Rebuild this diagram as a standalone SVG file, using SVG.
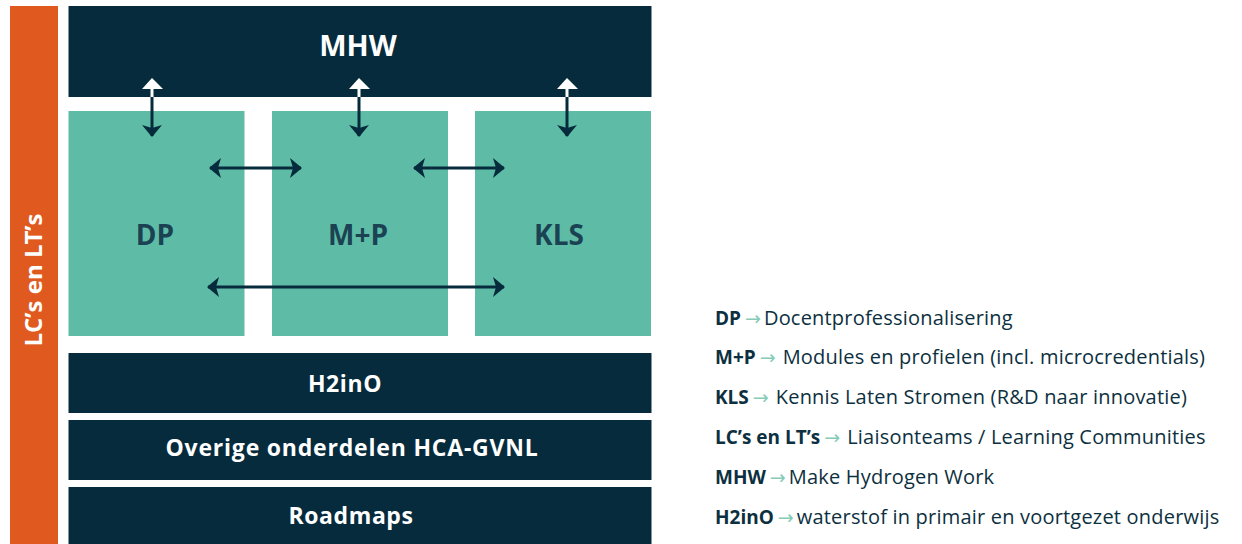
<svg xmlns="http://www.w3.org/2000/svg" width="1242" height="544" viewBox="0 0 1242 544">
<defs>
<style>
.navy{fill:#062b3d}
.green{fill:#5ebca6}
.wt{fill:#ffffff;font-family:"Open Sans","Liberation Sans",sans-serif;font-weight:700;text-anchor:middle}
.gt{fill:#1b4253;font-family:"Open Sans","Liberation Sans",sans-serif;font-weight:700;text-anchor:middle;font-size:28px}
.conn{stroke:#062b3d;stroke-width:3;fill:none}
.lg{font-family:"Open Sans","Liberation Sans",sans-serif;font-size:20px;fill:#0d3040;letter-spacing:0.2px}
.lg .b{font-weight:700;font-size:19px;letter-spacing:0}
.lg .a{fill:#86cbb5;font-size:19px;font-family:"DejaVu Sans",sans-serif;letter-spacing:0}
</style>
<marker id="ah" viewBox="0 0 12 20" refX="11" refY="10" markerWidth="12" markerHeight="20" markerUnits="userSpaceOnUse" orient="auto-start-reverse">
<path d="M0,0 L12,10 L0,20 L3,10 Z" fill="#062b3d"/>
</marker>
</defs>

<g id="lcs">
<rect x="10" y="6" width="48" height="538" fill="#e05a1f"/>
<text class="wt" font-size="24" transform="translate(42,280) rotate(-90)">LC’s en LT’s</text>
</g>

<g id="mhw">
<rect class="navy" x="68.5" y="6" width="583" height="91"/>
<text class="wt" font-size="29" x="358" y="56">MHW</text>
</g>

<g id="dp">
<rect class="green" x="68.5" y="111" width="176" height="225"/>
<text class="gt" x="155" y="245">DP</text>
</g>
<g id="mp">
<rect class="green" x="272" y="111" width="176" height="225"/>
<text class="gt" x="358" y="245">M+P</text>
</g>
<g id="kls">
<rect class="green" x="475" y="111" width="176" height="225"/>
<text class="gt" x="559" y="245">KLS</text>
</g>

<g id="h2ino">
<rect class="navy" x="68.5" y="353" width="583" height="60"/>
<text class="wt" font-size="23" letter-spacing="0.6" x="345" y="392">H2inO</text>
</g>
<g id="overige">
<rect class="navy" x="68.5" y="420" width="583" height="60"/>
<text class="wt" font-size="23" letter-spacing="0.8" x="352" y="456">Overige onderdelen HCA-GVNL</text>
</g>
<g id="roadmaps">
<rect class="navy" x="68.5" y="487" width="583" height="57"/>
<text class="wt" font-size="23" letter-spacing="0.6" x="351" y="524">Roadmaps</text>
</g>

<g id="connectors">
<g>
<line x1="152" y1="89" x2="152" y2="97" stroke="#ffffff" stroke-width="3"/>
<path d="M142,89 L152,78 L163,89 Z" fill="#ffffff"/>
<line class="conn" x1="152" y1="97" x2="152" y2="136" marker-end="url(#ah)"/>
</g>
<g>
<line x1="359" y1="89" x2="359" y2="97" stroke="#ffffff" stroke-width="3"/>
<path d="M349,89 L359,78 L370,89 Z" fill="#ffffff"/>
<line class="conn" x1="359" y1="97" x2="359" y2="136" marker-end="url(#ah)"/>
</g>
<g>
<line x1="567" y1="89" x2="567" y2="97" stroke="#ffffff" stroke-width="3"/>
<path d="M557,89 L567,78 L578,89 Z" fill="#ffffff"/>
<line class="conn" x1="567" y1="97" x2="567" y2="136" marker-end="url(#ah)"/>
</g>
<line class="conn" x1="210" y1="168" x2="301" y2="168" marker-start="url(#ah)" marker-end="url(#ah)"/>
<line class="conn" x1="414" y1="168" x2="504" y2="168" marker-start="url(#ah)" marker-end="url(#ah)"/>
<line class="conn" x1="208" y1="287" x2="504" y2="287" marker-start="url(#ah)" marker-end="url(#ah)"/>
</g>

<g id="legend" class="lg">
<text x="715" y="325"><tspan class="b">DP</tspan><tspan class="a" dx="4">→</tspan><tspan dx="3">Docentprofessionalisering</tspan></text>
<text x="715" y="364"><tspan class="b">M+P</tspan><tspan class="a" dx="4">→</tspan><tspan dx="7">Modules en profielen (incl. microcredentials)</tspan></text>
<text x="715" y="404"><tspan class="b">KLS</tspan><tspan class="a" dx="4">→</tspan><tspan dx="7">Kennis Laten Stromen (R&amp;D naar innovatie)</tspan></text>
<text x="715" y="444"><tspan class="b">LC’s en LT’s</tspan><tspan class="a" dx="4">→</tspan><tspan dx="7">Liaisonteams / Learning Communities</tspan></text>
<text x="715" y="484"><tspan class="b">MHW</tspan><tspan class="a" dx="4">→</tspan><tspan dx="3">Make Hydrogen Work</tspan></text>
<text x="715" y="524"><tspan class="b">H2inO</tspan><tspan class="a" dx="4">→</tspan><tspan dx="3">waterstof in primair en voortgezet onderwijs</tspan></text>
</g>
</svg>
